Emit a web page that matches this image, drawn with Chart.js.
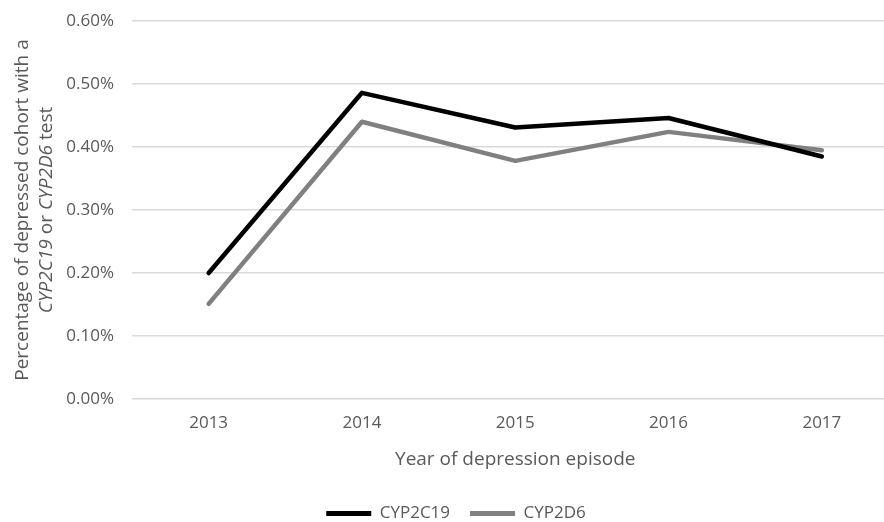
<!DOCTYPE html>
<html>
<head>
<meta charset="utf-8">
<script src="https://cdn.jsdelivr.net/npm/chart.js@4"></script>
<style>
  html, body { margin: 0; padding: 0; overflow: hidden; background: #ffffff; }
  canvas { display: block; }
</style>
</head>
<body>
<canvas id="chart" width="912" height="532"></canvas>
<script>
// Share of the depressed cohort with a pharmacogenomic test, by year (in %)
const years = ['2013', '2014', '2015', '2016', '2017'];
const cyp2c19 = [0.200, 0.486, 0.431, 0.446, 0.385];
const cyp2d6 = [0.151, 0.440, 0.378, 0.424, 0.395];
const seriesNames = ['CYP2C19', 'CYP2D6'];
const yTickLabels = ['0.00%', '0.10%', '0.20%', '0.30%', '0.40%', '0.50%', '0.60%'];
const xTitle = 'Year of depression episode';
// y-axis title, one entry per line; each piece is [text, italic]
const yTitleLines = [
  [['Percentage of depressed cohort with a', false]],
  [['CYP2C19', true], [' or ', false], ['CYP2D6', true], [' test', false]]
];

const FONT = "'Open Sans', sans-serif";
const TEXT = '#595959';
const GRID = '#d9d9d9';

// Rotated two-line y-axis title with italic gene names
const yTitlePlugin = {
  id: 'yTitleRich',
  afterDraw(chart, args, opts) {
    const ctx = chart.ctx;
    const area = chart.chartArea;
    const cy = (area.top + area.bottom) / 2;
    ctx.save();
    ctx.fillStyle = TEXT;
    ctx.textBaseline = 'middle';
    ctx.textAlign = 'left';
    opts.lines.forEach((pieces, i) => {
      const cx = opts.x[i];
      let total = 0;
      const widths = pieces.map(([t, it]) => {
        ctx.font = (it ? 'italic ' : '') + opts.size + 'px ' + FONT;
        const w = ctx.measureText(t).width;
        total += w;
        return w;
      });
      ctx.save();
      ctx.translate(cx, cy);
      ctx.rotate(-Math.PI / 2);
      let x = -total / 2;
      pieces.forEach(([t, it], k) => {
        ctx.font = (it ? 'italic ' : '') + opts.size + 'px ' + FONT;
        ctx.fillText(t, x, 0);
        x += widths[k];
      });
      ctx.restore();
    });
    ctx.restore();
  }
};

function draw() {
  new Chart(document.getElementById('chart'), {
    type: 'line',
    data: {
      labels: years,
      datasets: [
        {
          label: seriesNames[0],
          data: cyp2c19,
          borderColor: '#000000',
          backgroundColor: '#000000',
          borderWidth: 4.5,
          pointRadius: 0,
          tension: 0,
          borderCapStyle: 'round',
          borderJoinStyle: 'round'
        },
        {
          label: seriesNames[1],
          data: cyp2d6,
          borderColor: '#808080',
          backgroundColor: '#808080',
          borderWidth: 4.5,
          pointRadius: 0,
          tension: 0,
          borderCapStyle: 'round',
          borderJoinStyle: 'round'
        }
      ]
    },
    options: {
      responsive: false,
      animation: false,
      layout: { padding: { top: 21, left: 0, right: 0, bottom: 0 } },
      scales: {
        x: {
          type: 'category',
          offset: true,
          grid: { display: false, drawTicks: false },
          border: { display: false },
          ticks: { color: TEXT, font: { family: FONT, size: 17 }, padding: 14, maxRotation: 0 },
          title: {
            display: true,
            text: xTitle,
            color: TEXT,
            font: { family: FONT, size: 19 },
            padding: { top: 0, bottom: 14 }
          },
          afterFit(s) { s.height = 86; }
        },
        y: {
          min: 0,
          max: 0.6,
          position: 'left',
          grid: { color: GRID, lineWidth: 1.5, drawTicks: false },
          border: { display: false },
          ticks: {
            stepSize: 0.1,
            color: TEXT,
            font: { family: FONT, size: 17 },
            padding: 18,
            callback: (v, i) => yTickLabels[i]
          },
          afterFit(s) {
            s.width = 132;
            s.paddingTop = 0;
            s.paddingBottom = 0;
          }
        },
        yRight: {
          type: 'linear',
          position: 'right',
          display: true,
          grid: { display: false },
          border: { display: false },
          ticks: { display: false },
          afterFit(s) { s.width = 13.5; }
        }
      },
      plugins: {
        legend: {
          position: 'bottom',
          labels: {
            color: TEXT,
            font: { family: FONT, size: 17 },
            boxWidth: 45,
            boxHeight: 5,
            padding: 20,
            generateLabels(chart) {
              return Chart.defaults.plugins.legend.labels.generateLabels(chart)
                .map(l => Object.assign(l, { lineWidth: 0 }));
            }
          }
        },
        tooltip: { enabled: false },
        yTitleRich: { lines: yTitleLines, x: [23, 47], size: 19 }
      }
    },
    plugins: [yTitlePlugin]
  });
}

Promise.all([
  document.fonts.load("17px 'Open Sans'"),
  document.fonts.load("19px 'Open Sans'"),
  document.fonts.load("italic 19px 'Open Sans'")
]).then(draw, draw);
</script>
</body>
</html>
